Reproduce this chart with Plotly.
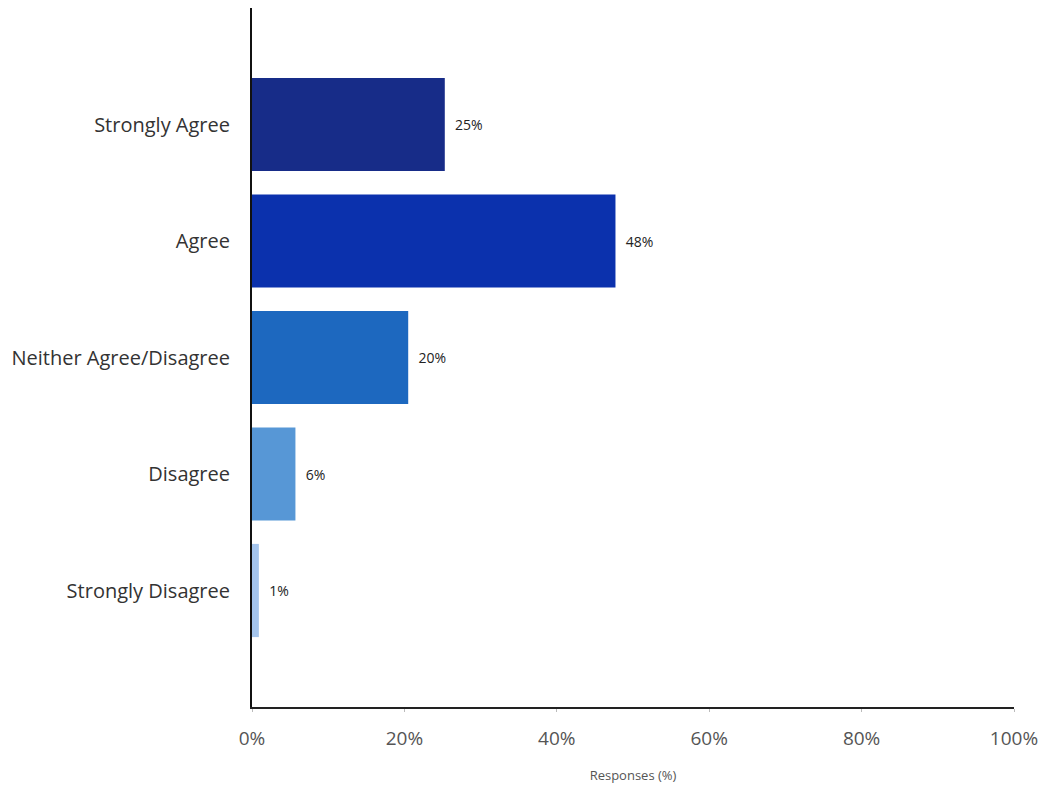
import plotly.graph_objects as go

categories = ["Strongly Agree", "Agree", "Neither Agree/Disagree", "Disagree", "Strongly Disagree"]
values = [25.3, 47.7, 20.5, 5.7, 0.9]
labels = ["25%", "48%", "20%", "6%", "1%"]
colors = ["#172c88", "#0b31ad", "#1d68bf", "#5797d6", "#a4c4ec"]
x_ticks = [0, 20, 40, 60, 80, 100]
x_ticklabels = ["0%", "20%", "40%", "60%", "80%", "100%"]

fig = go.Figure(go.Bar(
    x=values, y=categories, orientation="h",
    marker=dict(color=colors, line=dict(width=0)),
    text=labels, texttemplate="  %{text}", textposition="outside",
    textfont=dict(family="Open Sans", size=14, color="#222"),
    cliponaxis=False,
))

fig.update_layout(
    width=1046, height=792,
    margin=dict(l=252, r=28, t=8, b=85),
    paper_bgcolor="white", plot_bgcolor="white",
    bargap=0.2, showlegend=False,
    font=dict(family="Open Sans", color="#333"),
)
fig.update_xaxes(
    range=[0, 100], tickvals=x_ticks, ticktext=x_ticklabels,
    showgrid=False, zeroline=False,
    showline=True, linecolor="#222", linewidth=2,
    ticks="outside", ticklen=3, tickcolor="#bbb",
    ticklabelstandoff=10,
    tickfont=dict(family="Open Sans", size=19, color="#555"),
    title=dict(text="Responses (%)", font=dict(family="Open Sans", size=13, color="#555"), standoff=21),
)
fig.update_yaxes(
    categoryorder="array", categoryarray=categories,
    range=[5.0, -1.0],
    showgrid=False, zeroline=False,
    showline=True, linecolor="#111", linewidth=2,
    ticks="", ticklabelstandoff=16,
    tickfont=dict(family="Open Sans", size=20, color="#333"),
)

fig.write_html("out.html")
